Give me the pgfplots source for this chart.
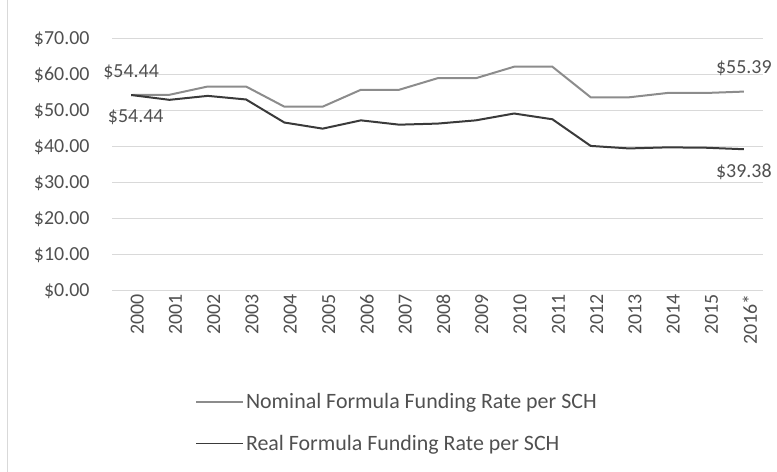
\documentclass[border=0pt]{standalone}
\usepackage{pgfplots}
\pgfplotsset{compat=1.18}
\usepackage{fontspec}
\setmainfont{Carlito}
\definecolor{txt}{HTML}{505050}
\definecolor{nomc}{HTML}{8C8C8C}
\definecolor{realc}{HTML}{3A3A3A}
\definecolor{gridc}{HTML}{D9D9D9}
\newcommand{\chartfont}{\fontsize{20}{24}\selectfont}
\newcommand{\legfont}{\fontsize{22}{26}\selectfont}
\begin{document}
\begin{tikzpicture}[x=1bp,y=1bp]
\useasboundingbox (0,0) rectangle (777,472);
\draw[gridc] (7,0) -- (7,472);
\begin{axis}[
  at={(112bp,181bp)}, anchor=south west,
  scale only axis, width=651bp, height=252bp,
  xmin=-0.5, xmax=16.5, ymin=0, ymax=70,
  ytick={0,10,...,70},
  xtick={0,...,16},
  xticklabels={2000,2001,2002,2003,2004,2005,2006,2007,2008,2009,2010,2011,2012,2013,2014,2015,2016*},
  x tick label style={rotate=90, anchor=east},
  yticklabel={\$\pgfmathprintnumber[fixed,fixed zerofill,precision=2]{\tick}},
  /pgf/number format/assume math mode=true,
  axis line style={draw=none},
  major tick length=0pt,
  ymajorgrids, grid style={gridc, line width=1bp},
  ticklabel style={font=\chartfont, text=txt},
  yticklabel style={xshift=-19bp},
  xticklabel style={yshift=-6bp},
  legend style={at={(0.438,-0.39)}, anchor=north, draw=none, fill=none,
    font=\legfont, text=txt, row sep=21bp, legend cell align=left,
    /tikz/every even column/.append style={column sep=0bp}},
  legend image code/.code={\draw[#1, line width=1.5bp] (0bp,0bp) -- (47bp,0bp);},
  clip=false,
]
\addplot[nomc, line width=2bp] coordinates {
(0,54.44) (1,54.5) (2,56.8) (3,56.8) (4,51.2) (5,51.2) (6,55.9) (7,55.9) (8,59.1)
(9,59.1) (10,62.3) (11,62.3) (12,53.8) (13,53.8) (14,55.0) (15,55.0) (16,55.39)};
\addlegendentry{Nominal Formula Funding Rate per SCH}
\addplot[realc, line width=2bp] coordinates {
(0,54.44) (1,53.1) (2,54.2) (3,53.2) (4,46.8) (5,45.1) (6,47.4) (7,46.2) (8,46.5)
(9,47.4) (10,49.3) (11,47.7) (12,40.3) (13,39.6) (14,39.9) (15,39.8) (16,39.38)};
\addlegendentry{Real Formula Funding Rate per SCH}
% data labels
\addplot[draw=none, forget plot, nodes near coords={\$\pgfmathprintnumber[fixed,fixed zerofill,precision=2]{\pgfplotspointmeta}},
  point meta=explicit, every node near coord/.append style={font=\chartfont, text=txt, anchor=south, yshift=12bp}]
  coordinates {(0,54.44) [54.44] (16,55.39) [55.39]};
\addplot[draw=none, forget plot, nodes near coords={\$\pgfmathprintnumber[fixed,fixed zerofill,precision=2]{\pgfplotspointmeta}},
  point meta=explicit, every node near coord/.append style={font=\chartfont, text=txt, anchor=north, yshift=-11bp}]
  coordinates {(0.12,54.44) [54.44] (16,39.38) [39.38]};
\end{axis}
\end{tikzpicture}
\end{document}
